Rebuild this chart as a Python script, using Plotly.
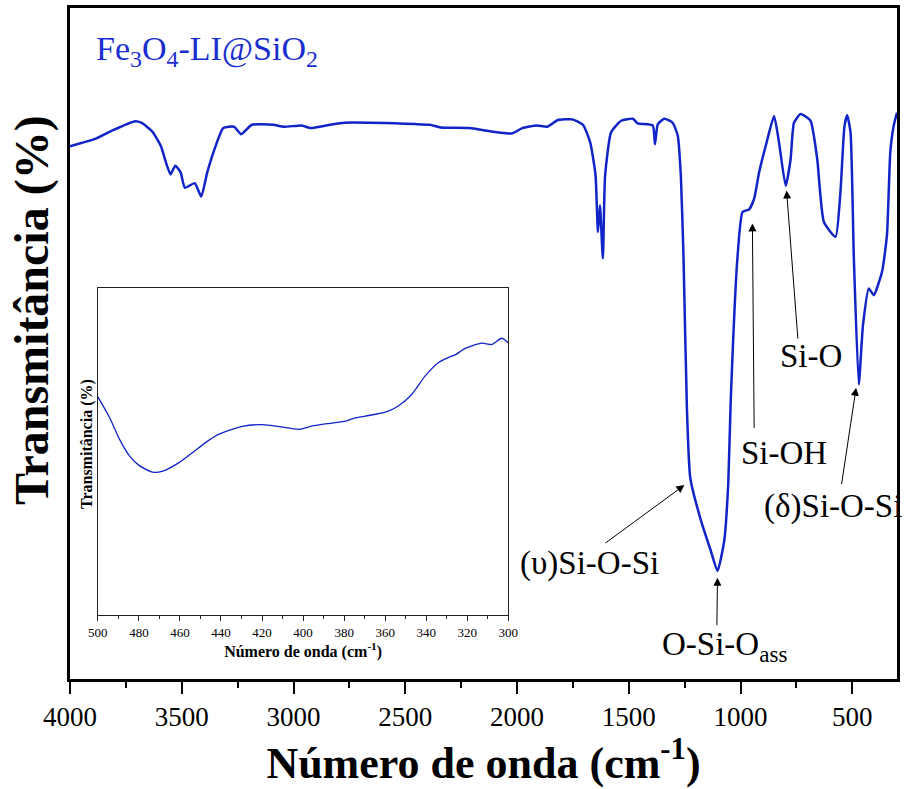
import plotly.graph_objects as go

# ---- main FTIR spectrum (wavenumber cm-1, transmittance a.u.) ----
wavenumber = [4000, 3888, 3808, 3712, 3681, 3632, 3593, 3569, 3550, 3529, 3505, 3486,
              3442, 3413, 3386, 3354, 3314, 3266, 3235, 3186, 3091, 3043, 2963, 2924,
              2836, 2772, 2454, 2390, 2342, 2215, 2024, 1976, 1912, 1864, 1817, 1753,
              1705, 1673, 1649, 1638, 1629, 1616, 1606, 1579, 1534, 1482, 1460, 1393,
              1383, 1370, 1341, 1304, 1281, 1267, 1255, 1240, 1225, 1177, 1133, 1103,
              1073, 1055, 1044, 1014, 991, 961, 939, 917, 887, 850, 828, 798, 776, 761,
              731, 687, 657, 627, 575, 553, 535, 523, 508, 493, 471, 452, 426, 404, 367,
              345, 330, 315, 300]
transmittance = [79.4, 80.5, 81.8, 83.1, 82.9, 81.6, 79.4, 76.8, 75.2, 76.5, 75.5, 73.2,
                 73.9, 71.9, 75.5, 78.9, 82.1, 82.3, 81.2, 82.6, 82.6, 82.3, 82.5, 82.1,
                 82.6, 82.9, 82.7, 82.6, 82.2, 82.1, 81.3, 82.1, 82.5, 82.3, 83.3, 83.4,
                 82.6, 80.0, 75.2, 66.6, 70.6, 62.7, 75.0, 81.5, 83.2, 83.5, 82.8, 82.5,
                 79.7, 82.7, 83.5, 82.9, 81.0, 75.0, 62.7, 40.4, 30.0, 23.6, 19.1, 16.1,
                 20.6, 29.1, 41.4, 62.7, 69.6, 70.0, 71.6, 75.5, 79.5, 83.9, 80.0, 73.5,
                 77.5, 82.9, 84.2, 83.2, 77.5, 68.1, 65.9, 72.6, 82.4, 84.0, 81.5, 62.7,
                 43.9, 52.8, 58.2, 57.2, 60.7, 66.1, 78.5, 82.4, 84.4]

# ---- inset: 500-300 cm-1 region ----
inset_wavenumber = [500, 494.3, 489.5, 484.6, 479.8, 473.3, 468.4, 460.3, 453.8, 447.4,
                    440.9, 429.6, 419.8, 411.7, 402, 395.5, 385.8, 379.4, 374.5, 368,
                    359.9, 353.4, 347, 340.5, 334, 329.2, 325.9, 321, 313, 308.1, 303.2, 300]
inset_transmittance = [66.7, 60.4, 53.8, 48.7, 45.7, 43.7, 44.0, 46.7, 49.7, 52.8,
                       55.3, 57.7, 58.2, 57.6, 56.8, 57.8, 58.7, 59.3, 60.3, 61.0,
                       62.0, 64.0, 67.5, 73.1, 77.2, 78.7, 79.5, 81.5, 83.1, 82.7, 84.6, 83.2]

# ---- band assignments ----
band_labels = ["Si-O", "Si-OH", "(δ)Si-O-Si", "(υ)Si-O-Si", "O-Si-O<sub>ass</sub>"]
label_x = [684, 804, 585, 1678, 1074]
label_y = [48.1, 33.7, 25.7, 17.2, 4.9]
head_x = [794, 947, 483, 1251, 1103]
head_y = [72.8, 67.9, 43.4, 28.9, 15.1]
tail_x = [743, 939, 549, 1611, 1106]
tail_y = [50.5, 37.2, 28.8, 20.1, 7.8]

sample_name = "Fe<sub>3</sub>O<sub>4</sub>-LI@SiO<sub>2</sub>"

LINE = "#1024c8"
FONT = "Liberation Serif, Times New Roman, serif"

fig = go.Figure()
fig.add_trace(go.Scatter(x=wavenumber, y=transmittance, mode="lines",
                         line=dict(color=LINE, width=2.5, shape="spline", smoothing=0.5),
                         xaxis="x", yaxis="y", showlegend=False, hoverinfo="skip"))
fig.add_trace(go.Scatter(x=inset_wavenumber, y=inset_transmittance, mode="lines",
                         line=dict(color=LINE, width=1.3, shape="spline", smoothing=0.6),
                         xaxis="x2", yaxis="y2", showlegend=False, hoverinfo="skip"))

annotations = []
for lab, lx, ly, hx, hy, tx, ty in zip(band_labels, label_x, label_y, head_x, head_y, tail_x, tail_y):
    annotations.append(dict(x=hx, y=hy, ax=tx, ay=ty, xref="x", yref="y", axref="x", ayref="y",
                            text="", showarrow=True, arrowhead=2, arrowsize=1.6, arrowwidth=1,
                            arrowcolor="black"))
    annotations.append(dict(x=lx, y=ly, xref="x", yref="y", text=lab, showarrow=False,
                            font=dict(family=FONT, size=33, color="black"),
                            xanchor="center", yanchor="middle"))

annotations.append(dict(x=3891, y=93.6, xref="x", yref="y", text=sample_name, showarrow=False,
                        font=dict(family=FONT, size=34, color="#1a2ed0"),
                        xanchor="left", yanchor="middle"))
annotations.append(dict(x=-0.0458, y=0.55, xref="paper", yref="paper",
                        text="<b>Transmitância (%)</b>", textangle=-90, showarrow=False,
                        font=dict(family=FONT, size=48, color="black"),
                        xanchor="center", yanchor="middle"))
annotations.append(dict(x=0.0205, y=0.35, xref="paper", yref="paper",
                        text="<b>Transmitância (%)</b>", textangle=-90, showarrow=False,
                        font=dict(family=FONT, size=16, color="black"),
                        xanchor="center", yanchor="middle"))

fig.update_layout(
    width=912, height=789,
    margin=dict(l=70, r=12, t=5, b=110),
    paper_bgcolor="white", plot_bgcolor="white",
    font=dict(family=FONT, color="black"),
    xaxis=dict(range=[4000, 300], domain=[0, 1], anchor="y",
               showline=True, linecolor="black", linewidth=2.5, mirror=True,
               ticks="outside", ticklen=12, tickwidth=2.2, tickcolor="black",
               dtick=500, tick0=0, showgrid=False, zeroline=False,
               minor=dict(dtick=250, tick0=0, ticks="outside", ticklen=6, tickwidth=2.2,
                          tickcolor="black", showgrid=False),
               tickfont=dict(family=FONT, size=27),
               title=dict(text="<b>Número de onda (cm<sup>-1</sup>)</b>",
                          font=dict(family=FONT, size=44), standoff=10)),
    yaxis=dict(range=[0, 100], domain=[0, 1], anchor="x",
               showline=True, linecolor="black", linewidth=2.5, mirror=True,
               ticks="", showticklabels=False, showgrid=False, zeroline=False),
    xaxis2=dict(range=[500, 300], domain=[0.0337, 0.530], anchor="y2",
                showline=True, linecolor="#222", linewidth=1.2, mirror=True,
                ticks="outside", ticklen=5, tickwidth=1, tickcolor="#222",
                dtick=20, tick0=0, showgrid=False, zeroline=False,
                minor=dict(dtick=10, tick0=0, ticks="outside", ticklen=3, tickwidth=1,
                           tickcolor="#222", showgrid=False),
                tickfont=dict(family=FONT, size=13),
                title=dict(text="<b>Número de onda (cm<sup>-1</sup>)</b>",
                           font=dict(family=FONT, size=16), standoff=3)),
    yaxis2=dict(range=[0, 100], domain=[0.095, 0.583], anchor="x2",
                showline=True, linecolor="#222", linewidth=1.2, mirror=True,
                ticks="", showticklabels=False, showgrid=False, zeroline=False),
    annotations=annotations,
)

fig.write_html("out.html", config={"displayModeBar": False},
               post_script="document.body.style.margin='0';")
